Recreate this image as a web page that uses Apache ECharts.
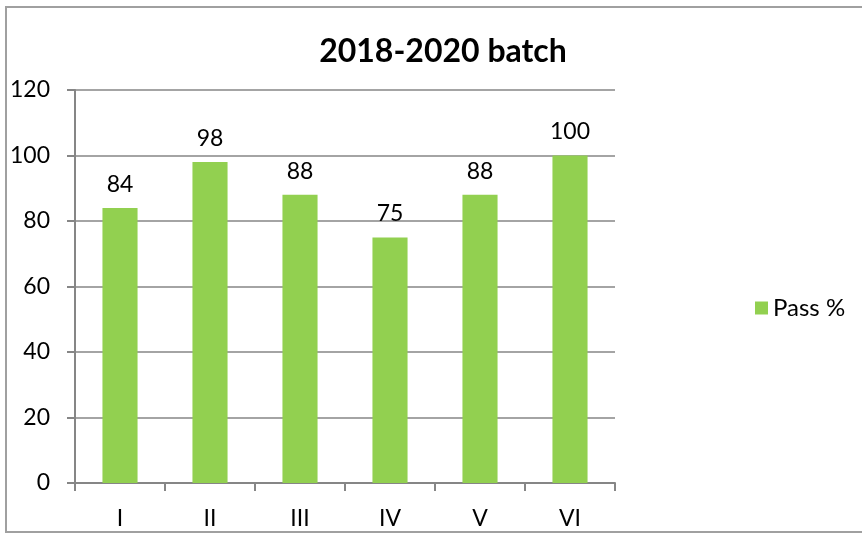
<!DOCTYPE html>
<html>
<head>
<meta charset="utf-8">
<script src="https://cdn.jsdelivr.net/npm/echarts@6/dist/echarts.min.js"></script>
<style>
  html, body { margin: 0; padding: 0; background: #fff; }
  #frame { position: absolute; left: 5px; top: 6px; width: 870px; height: 527px; border: 2px solid #a0a0a0; box-sizing: border-box; }
  #chart { width: 862px; height: 536px; position: absolute; left: 0; top: 0; }
</style>
</head>
<body>
<div id="frame"></div>
<div id="chart"></div>
<script>
// semesters of the batch
var categories = ['I', 'II', 'III', 'IV', 'V', 'VI'];
var passPercent = [84, 98, 88, 75, 88, 100];
var seriesName = 'Pass %';

var myechart = echarts.init(document.getElementById('chart'));
var axisGray = '#868686';
var fontFam = 'Lato, "Open Sans", sans-serif';

myechart.setOption({
    animation: false,
    backgroundColor: 'transparent',
    title: {
        text: '2018-2020 batch',
        left: 438,
        top: 31,
        textAlign: 'center',
        textStyle: { fontFamily: fontFam, fontSize: 32, fontWeight: 'bold', color: '#000' }
    },
    legend: {
        data: [seriesName],
        left: 750,
        top: 291,
        orient: 'vertical',
        icon: 'rect',
        itemWidth: 13,
        itemHeight: 13,
        itemGap: 6,
        textStyle: { fontFamily: fontFam, fontSize: 24, color: '#000' }
    },
    grid: { left: 75, right: 247, top: 90, bottom: 53, containLabel: false },
    xAxis: {
        type: 'category',
        data: categories,
        axisLine: { lineStyle: { color: axisGray, width: 2 } },
        axisTick: { show: true, alignWithLabel: false, length: 8, lineStyle: { color: axisGray, width: 2 } },
        axisLabel: { fontFamily: fontFam, fontSize: 23, color: '#000', margin: 24 },
        splitLine: { show: false }
    },
    yAxis: {
        type: 'value',
        min: 0,
        max: 120,
        interval: 20,
        axisLine: { show: true, lineStyle: { color: axisGray, width: 2 } },
        axisTick: { show: true, length: 8, lineStyle: { color: axisGray, width: 2 } },
        axisLabel: { fontFamily: fontFam, fontSize: 23, color: '#000', margin: 25 },
        splitLine: { show: true, lineStyle: { color: axisGray, width: 1.5 } }
    },
    series: [{
        name: seriesName,
        type: 'bar',
        data: passPercent,
        barWidth: '39%',
        itemStyle: { color: '#92D050' },
        label: {
            show: true,
            position: 'top',
            distance: 12,
            fontFamily: fontFam,
            fontSize: 23,
            color: '#000'
        }
    }]
});
</script>
</body>
</html>
